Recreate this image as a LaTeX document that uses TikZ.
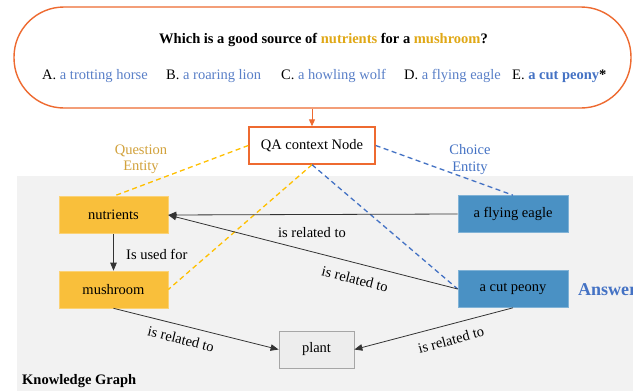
\documentclass[tikz,border=0pt]{standalone}
\usepackage{fontspec}
\setmainfont{Liberation Serif}
\usetikzlibrary{arrows.meta}
\definecolor{orng}{HTML}{EE6A30}
\definecolor{goldtxt}{HTML}{E0A816}
\definecolor{goldlbl}{HTML}{D2A23C}
\definecolor{goldline}{HTML}{FFC000}
\definecolor{bluetxt}{HTML}{4472C4}
\definecolor{optblue}{HTML}{5A80C8}
\definecolor{ybox}{HTML}{F9BF3B}
\definecolor{bbox}{HTML}{4A91C4}
\definecolor{kgbg}{HTML}{F2F2F2}
\definecolor{plantfill}{HTML}{EDEDED}
\definecolor{plantdraw}{HTML}{A6A6A6}
\begin{document}
\begin{tikzpicture}[x=1pt,y=-1pt,
  font=\fontsize{14.5}{17}\selectfont,
  ybx/.style={fill=ybox, draw=ybox!70!white, line width=0.6pt, minimum width=109pt, minimum height=37pt, inner sep=0pt},
  bbx/.style={fill=bbox, draw=bbox!70!white, line width=0.6pt, minimum width=110pt, minimum height=37pt, inner sep=0pt},
  kgarrow/.style={draw=black!80, line width=0.8pt, -{Triangle[length=8pt,width=6.5pt]}},
  gdash/.style={draw=goldline, line width=1.3pt, dash pattern=on 5pt off 3.5pt},
  bdash/.style={draw=bluetxt, line width=1.3pt, dash pattern=on 5pt off 3.5pt},
  rel/.style={inner sep=0pt}]
\useasboundingbox (0,0) rectangle (633,391);
\fill[white] (0,0) rectangle (633,391);
% knowledge graph background
\fill[kgbg] (17,176) rectangle (633,391);
% question box
\node[draw=orng, line width=1.4pt, rounded corners=50pt, minimum width=617pt, minimum height=101pt, inner sep=0pt] (qbox) at (322.5,57.5) {};
\node[font=\fontsize{14.5}{17}\selectfont\bfseries] (question) at (323.5,40) {Which is a good source of \textcolor{goldtxt}{nutrients} for a \textcolor{goldtxt}{mushroom}?};
\node[anchor=west, inner sep=0pt] (optA) at (42,76) {A. \textcolor{optblue}{a trotting horse}};
\node[anchor=west, inner sep=0pt] (optB) at (166,76) {B. \textcolor{optblue}{a roaring lion}};
\node[anchor=west, inner sep=0pt] (optC) at (281,76) {C. \textcolor{optblue}{a howling wolf}};
\node[anchor=west, inner sep=0pt] (optD) at (404,76) {D. \textcolor{optblue}{a flying eagle}};
\node[anchor=west, inner sep=0pt] (optE) at (512,76) {E. \textcolor{bluetxt}{\bfseries a cut peony}\textbf{*}};
% QA node
\node[draw=orng, fill=white, line width=1.4pt, minimum width=126pt, minimum height=37pt, inner sep=0pt] (qa) at (312,145.5) {QA context Node};
\draw[draw=orng, line width=1pt, -{Triangle[length=7pt,width=6pt]}, color=orng] (qa.north |- qbox.south) -- (qa.north);
% entity labels
\node[text=goldlbl, align=center, font=\fontsize{14.5}{16.5}\selectfont] (qent) at (141,159.5) {Question\\Entity};
\node[text=bluetxt, align=center, font=\fontsize{14.5}{16.5}\selectfont] (cent) at (470,159.5) {Choice\\Entity};
% KG nodes
\node[ybx] (nutr) at (113.5,215) {nutrients};
\node[ybx] (mush) at (113.5,289.5) {mushroom};
\node[bbx] (eagle) at (513,214) {a flying eagle};
\node[bbx] (peony) at (513,289) {a cut peony};
\node[fill=plantfill, draw=plantdraw, line width=0.8pt, minimum width=75pt, minimum height=37pt, inner sep=0pt] (plant) at (316.5,349.5) {plant};
\node[anchor=west, text=bluetxt, font=\fontsize{18}{20}\selectfont\bfseries, inner sep=0pt] (ans) at (578,290) {Answer};
\node[anchor=west, font=\fontsize{14.5}{17}\selectfont\bfseries, inner sep=0pt] (kg) at (22,381) {Knowledge Graph};
% dashed links
\draw[gdash] (qa.west) -- (nutr.north);
\draw[gdash] (qa.south) -- (mush.east);
\draw[bdash] (qa.east) -- (eagle.north);
\draw[bdash] (qa.south) -- (peony.west);
% KG edges
\draw[kgarrow] (nutr.south) -- (mush.north);
\draw[kgarrow] (eagle.west) -- (nutr.east);
\draw[kgarrow] (peony.west) -- (nutr.east);
\draw[kgarrow] (mush.south) -- (plant.west);
\draw[kgarrow] (peony.south) -- (plant.east);
% edge labels
\node[anchor=west, rel] (lused) at (126,254) {Is used for};
\node[rel] (l1) at (312,233) {is related to};
\node[rel, rotate=-14] (l2) at (355,279) {is related to};
\node[rel, rotate=-14] (l3) at (181,339) {is related to};
\node[rel, rotate=15] (l4) at (451,340) {is related to};
\end{tikzpicture}
\end{document}
